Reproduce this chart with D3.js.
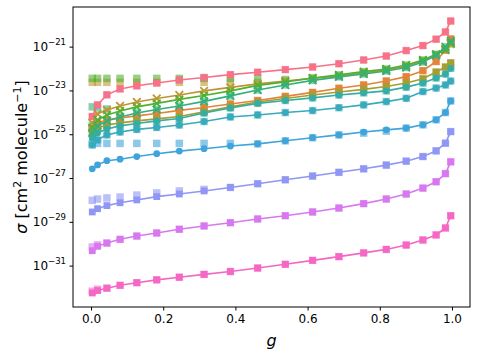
<!DOCTYPE html>
<html>
<head>
<meta charset="utf-8">
<script src="https://cdn.jsdelivr.net/npm/d3@7"></script>
<style>
  body { margin: 0; background: #fff; }
  text { font-family: "DejaVu Sans", sans-serif; fill: #000; }
</style>
</head>
<body>
<div id="chart"></div>
<script>
const width = 478;
const height = 356;
const margin = { top: 7, right: 8, bottom: 49, left: 73 };

// g grid (20 quadrature nodes on [0, 1])
const gValues = [0.0034, 0.0180, 0.0439, 0.0804, 0.1268, 0.1820, 0.2446, 0.3132, 0.3861, 0.4617,
                 0.5383, 0.6139, 0.6868, 0.7554, 0.8180, 0.8732, 0.9196, 0.9561, 0.9820, 0.9966];

// log10 of sigma, one model line and one measured set per species
const pinkLine    = [-24.19, -23.66, -23.20, -22.93, -22.79, -22.66, -22.52, -22.41, -22.28, -22.17, -22.05, -21.93, -21.78, -21.61, -21.43, -21.18, -20.95, -20.66, -20.33, -19.83];
const orangeLine  = [-24.73, -24.48, -24.35, -24.26, -24.16, -24.05, -23.91, -23.78, -23.62, -23.46, -23.27, -23.09, -22.90, -22.75, -22.57, -22.37, -22.10, -21.68, -21.15, -20.65];
const goldLine    = [-24.48, -24.07, -23.89, -23.71, -23.53, -23.37, -23.21, -23.02, -22.86, -22.70, -22.57, -22.45, -22.34, -22.20, -22.06, -21.90, -21.65, -21.38, -21.11, -20.88];
const goldData    = [-22.63, -22.63, -22.63, -22.63, -22.63, -22.63, -22.63, -22.63, -22.63, -22.63, -22.57, -22.45, -22.34, -22.20, -22.06, -21.90, -21.65, -21.38, -21.11, -20.88];
const oliveLine   = [-24.94, -24.71, -24.58, -24.48, -24.39, -24.30, -24.19, -23.98, -23.75, -23.53, -23.37, -23.21, -23.07, -22.95, -22.82, -22.66, -22.47, -22.16, -21.93, -21.74];
const greenLine   = [-24.71, -24.35, -24.12, -23.94, -23.75, -23.59, -23.41, -23.23, -23.02, -22.77, -22.61, -22.43, -22.29, -22.14, -22.02, -21.84, -21.61, -21.35, -21.15, -20.83];
const greenData   = [-22.45, -22.45, -22.45, -22.45, -22.45, -22.45, -22.45, -22.45, -22.45, -22.45, -22.50, -22.43, -22.29, -22.14, -22.02, -21.84, -21.61, -21.35, -21.15, -20.83];
const seaLine     = [-24.94, -24.62, -24.39, -24.21, -24.03, -23.87, -23.71, -23.50, -23.25, -22.98, -22.75, -22.54, -22.38, -22.25, -22.11, -21.95, -21.70, -21.40, -21.01, -20.74];
const seaData     = [-23.75, -23.80, -23.85, -24.21, -24.03, -23.87, -23.71, -23.50, -23.25, -22.98, -22.75, -22.54, -22.38, -22.25, -22.11, -21.95, -21.70, -21.40, -21.01, -20.74];
const tealLine    = [-25.17, -24.94, -24.76, -24.62, -24.51, -24.39, -24.28, -24.03, -23.80, -23.59, -23.46, -23.34, -23.21, -23.11, -23.02, -22.85, -22.66, -22.43, -22.25, -21.99];
const tealData    = [-24.60, -24.62, -24.62, -24.62, -24.51, -24.39, -24.28, -24.03, -23.80, -23.59, -23.46, -23.34, -23.21, -23.11, -23.02, -22.85, -22.66, -22.43, -22.25, -21.99];
const cyanLine    = [-25.49, -25.26, -25.03, -24.90, -24.78, -24.69, -24.58, -24.42, -24.21, -24.12, -24.01, -23.92, -23.79, -23.66, -23.51, -23.36, -23.05, -22.89, -22.75, -22.57];
const blueLine    = [-26.58, -26.40, -26.21, -26.14, -26.02, -25.89, -25.77, -25.66, -25.54, -25.44, -25.30, -25.16, -25.03, -24.90, -24.80, -24.72, -24.57, -24.34, -24.01, -23.48];
const blueData    = [-25.42, -25.42, -25.42, -25.42, -25.42, -25.42, -25.42, -25.42, -25.42, -25.44, -25.30, -25.16, -25.03, -24.95, -24.86, -24.72, -24.57, -24.34, -24.01, -23.48];
const violetLine  = [-28.55, -28.40, -28.26, -28.13, -28.00, -27.85, -27.73, -27.59, -27.43, -27.26, -27.08, -26.91, -26.74, -26.58, -26.41, -26.23, -26.02, -25.76, -25.41, -24.88];
const violetData  = [-28.02, -27.96, -27.91, -27.87, -27.78, -27.68, -27.59, -27.52, -27.43, -27.26, -27.08, -26.91, -26.74, -26.58, -26.41, -26.23, -26.02, -25.76, -25.41, -24.88];
const purpleLine  = [-30.32, -30.12, -29.97, -29.80, -29.65, -29.51, -29.34, -29.19, -29.04, -28.87, -28.72, -28.55, -28.37, -28.17, -27.96, -27.73, -27.46, -27.17, -26.80, -26.26];
const purpleData  = [-30.15, -30.05, -29.97, -29.80, -29.65, -29.51, -29.34, -29.19, -29.04, -28.87, -28.72, -28.55, -28.37, -28.17, -27.96, -27.73, -27.46, -27.17, -26.80, -26.26];
const magentaLine = [-32.25, -32.14, -32.03, -31.90, -31.78, -31.65, -31.53, -31.40, -31.27, -31.11, -30.94, -30.76, -30.59, -30.42, -30.26, -30.06, -29.83, -29.60, -29.28, -28.72];
const magentaData = [-32.17, -32.08, -32.03, -31.90, -31.78, -31.65, -31.53, -31.40, -31.27, -31.11, -30.94, -30.76, -30.59, -30.42, -30.26, -30.06, -29.83, -29.60, -29.28, -28.72];

const colors  = ["#f77189", "#e3843a", "#bf9633", "#a39f31", "#50b131", "#33b07a", "#36ada4", "#37aabb", "#3fa4d9", "#8f96f4", "#d878ee", "#f567c4"];
const markers = ["square", "square", "x", "square", "x", "x", "circle", "circle", "circle", "square", "square", "square"];
const lines   = [pinkLine, orangeLine, goldLine, oliveLine, greenLine, seaLine, tealLine, cyanLine, blueLine, violetLine, purpleLine, magentaLine];
const measured = [pinkLine, orangeLine, goldData, oliveLine, greenData, seaData, tealData, cyanLine, blueData, violetData, purpleData, magentaData];

const xTicks = [0, 0.2, 0.4, 0.6, 0.8, 1.0];
const yTickExps = [-31, -29, -27, -25, -23, -21];

const x = d3.scaleLinear()
  .domain([-0.05, 1.05])
  .range([margin.left, width - margin.right]);

const y = d3.scaleLog()
  .domain([Math.pow(10, -32.89), Math.pow(10, -19.19)])
  .range([height - margin.bottom, margin.top]);

const svg = d3.select("#chart").append("svg")
  .attr("width", width)
  .attr("height", height);

const shape = {
  square: d3.symbol().type(d3.symbolSquare).size(46),
  circle: d3.symbol().type(d3.symbolCircle).size(36),
  x: d3.symbol().type(d3.symbolX).size(40)
};

// measured points, translucent squares
measured.forEach((vals, k) => {
  svg.append("g")
    .selectAll("path")
    .data(vals)
    .join("path")
    .attr("transform", (v, i) => `translate(${x(gValues[i])},${y(Math.pow(10, v))})`)
    .attr("d", d3.symbol().type(d3.symbolSquare).size(56))
    .attr("fill", colors[k])
    .attr("opacity", 0.6);
});

// model lines with markers
const line = d3.line()
  .x((v, i) => x(gValues[i]))
  .y(v => y(Math.pow(10, v)));

lines.forEach((vals, k) => {
  const grp = svg.append("g");
  grp.append("path")
    .datum(vals)
    .attr("d", line)
    .attr("fill", "none")
    .attr("stroke", colors[k])
    .attr("stroke-width", 1.6);

  const m = grp.selectAll(".m")
    .data(vals)
    .join("path")
    .attr("class", "m")
    .attr("transform", (v, i) => `translate(${x(gValues[i])},${y(Math.pow(10, v))})`)
    .attr("d", shape[markers[k]]);

  if (markers[k] === "x") {
    m.attr("fill", "none").attr("stroke", colors[k]).attr("stroke-width", 1.8);
  } else {
    m.attr("fill", colors[k]);
  }
});

// frame
svg.append("rect")
  .attr("x", margin.left)
  .attr("y", margin.top)
  .attr("width", width - margin.left - margin.right)
  .attr("height", height - margin.top - margin.bottom)
  .attr("fill", "none")
  .attr("stroke", "#000")
  .attr("stroke-width", 1);

// x axis
const xAxis = svg.append("g")
  .attr("transform", `translate(0,${height - margin.bottom})`)
  .call(d3.axisBottom(x).tickValues(xTicks).tickFormat(d3.format(".1f")).tickSize(3.5).tickPadding(3.5));
xAxis.select(".domain").remove();
xAxis.selectAll("text").style("font-size", "12px").style("font-family", "DejaVu Sans");

// y axis
const yAxis = svg.append("g")
  .attr("transform", `translate(${margin.left},0)`)
  .call(d3.axisLeft(y).tickValues(yTickExps.map(e => Math.pow(10, e))).tickFormat("").tickSize(3.5));
yAxis.select(".domain").remove();

yTickExps.forEach(e => {
  const t = svg.append("text")
    .attr("x", margin.left - 7)
    .attr("y", y(Math.pow(10, e)) + 4.5)
    .attr("text-anchor", "end")
    .style("font-size", "12px");
  t.append("tspan").text("10");
  t.append("tspan").attr("dy", -6.5).style("font-size", "8.5px").text("\u2212" + Math.abs(e));
});

// axis labels
svg.append("text")
  .attr("x", x(0.5))
  .attr("y", 346)
  .attr("text-anchor", "middle")
  .style("font-size", "16px")
  .style("font-style", "italic")
  .text("g");

const yl = svg.append("text")
  .attr("transform", `translate(27,${(margin.top + height - margin.bottom) / 2}) rotate(-90)`)
  .attr("text-anchor", "middle")
  .style("font-size", "16px");
yl.append("tspan").style("font-style", "italic").text("\u03c3");
yl.append("tspan").text(" [cm");
yl.append("tspan").attr("dy", -6).style("font-size", "11px").text("2");
yl.append("tspan").attr("dy", 6).text(" molecule");
yl.append("tspan").attr("dy", -6).style("font-size", "11px").text("\u22121");
yl.append("tspan").attr("dy", 6).text("]");
</script>
</body>
</html>
